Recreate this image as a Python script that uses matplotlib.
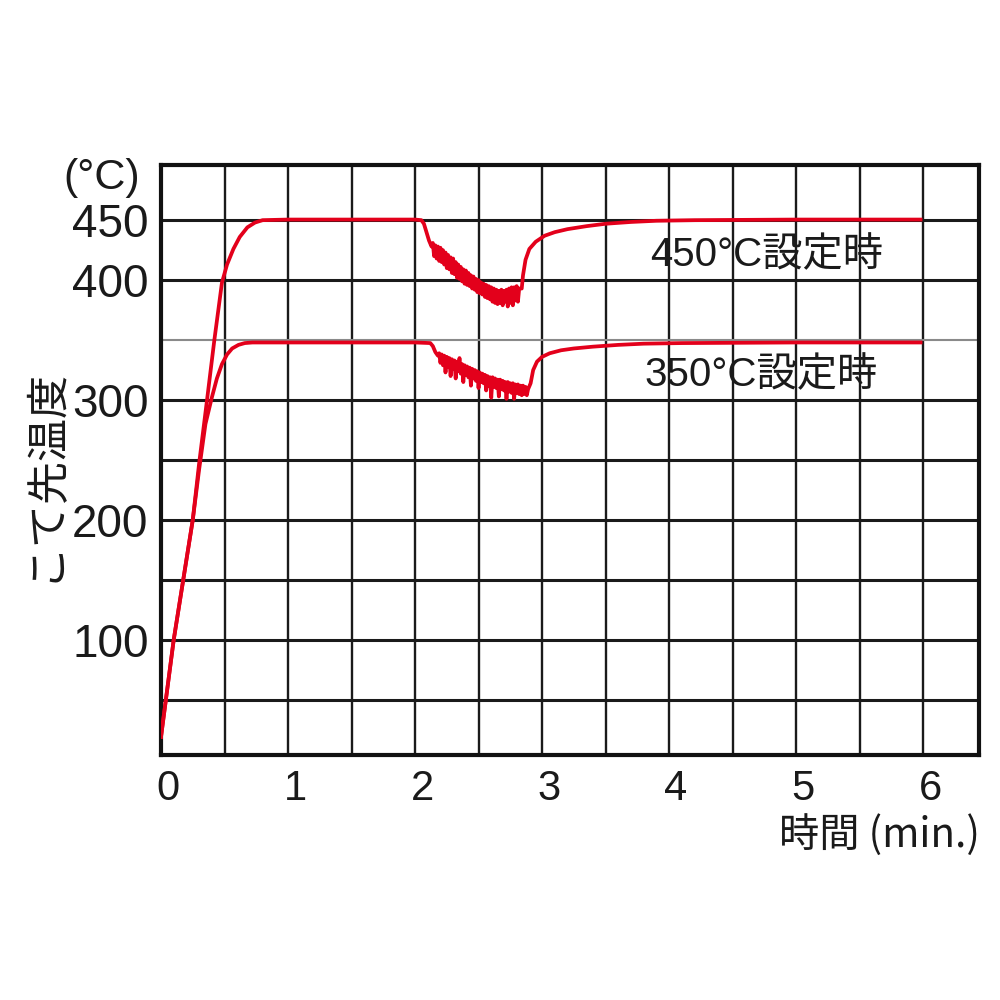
import matplotlib
matplotlib.use("Agg")
import matplotlib.pyplot as plt
import matplotlib.transforms as mtransforms

plt.rcParams['font.family'] = ['Liberation Sans', 'Noto Sans CJK JP', 'DejaVu Sans']

# 450°C setting: time (min) and tip temperature (°C)
time_450 = [0.00, 0.10, 0.25, 0.30, 0.36, 0.42, 0.48, 0.52, 0.57, 0.62, 0.68, 0.74, 0.80, 1.00, 1.50, 2.00,
            2.05, 2.07, 2.09, 2.11, 2.13,
            2.14, 2.15, 2.16, 2.17, 2.18, 2.19, 2.20, 2.21, 2.22, 2.23, 2.24, 2.25, 2.26, 2.27, 2.28, 2.29,
            2.30, 2.31, 2.32, 2.33, 2.34, 2.35, 2.36, 2.37, 2.38, 2.39, 2.40, 2.41, 2.42, 2.43, 2.44, 2.45,
            2.46, 2.47, 2.48, 2.49, 2.50, 2.51, 2.52, 2.53, 2.54, 2.55, 2.56, 2.57, 2.58, 2.59, 2.60, 2.61,
            2.62, 2.63, 2.64, 2.65, 2.66, 2.67, 2.68, 2.69, 2.70, 2.71, 2.72, 2.73, 2.74, 2.75, 2.76, 2.77,
            2.78, 2.79, 2.80, 2.81, 2.82,
            2.84, 2.85, 2.87, 2.90, 2.95, 3.02, 3.10, 3.20, 3.35, 3.50, 3.70, 3.90, 4.20, 5.00, 5.98]
temp_450 = [19, 100, 200, 247, 298, 350, 398, 413, 426, 436, 444, 448, 450, 450.5, 450.5, 450.5,
            450, 447, 440, 433, 428,
            431, 420, 429, 418, 428, 416, 427, 415, 425, 413, 423, 410, 421, 409, 419, 406,
            418, 405, 415, 402, 413, 401, 411, 399, 409, 397, 408, 396, 406, 395, 404, 393,
            403, 392, 401, 390, 400, 389, 398, 388, 397, 386, 396, 385, 395, 384, 394, 382,
            393, 381, 392, 380, 391, 381, 392, 379, 391, 382, 392, 378, 393, 381, 394, 379,
            394, 383, 395, 382, 393,
            393, 404, 417, 426, 432, 437, 440, 442.5, 445, 447, 448.5, 449.5, 450, 450.5, 450.5]

# 350°C setting
time_350 = [0.00, 0.10, 0.25, 0.30, 0.35, 0.40, 0.44, 0.48, 0.52, 0.56, 0.61, 0.66, 0.72, 1.00, 1.50, 2.00,
            2.12, 2.14, 2.16, 2.18,
            2.19, 2.20, 2.21, 2.22, 2.23, 2.24, 2.25, 2.26, 2.27, 2.28, 2.29, 2.30, 2.31, 2.32, 2.33, 2.34,
            2.35, 2.36, 2.37, 2.38, 2.39, 2.40, 2.41, 2.42, 2.43, 2.44, 2.45, 2.46, 2.47, 2.48, 2.49, 2.50,
            2.51, 2.52, 2.53, 2.54, 2.55, 2.56, 2.57, 2.58, 2.59, 2.60, 2.61, 2.62, 2.63, 2.64, 2.65, 2.66,
            2.67, 2.68, 2.69, 2.70, 2.71, 2.72, 2.73, 2.74, 2.75, 2.76, 2.77, 2.78, 2.79, 2.80, 2.81, 2.82,
            2.83, 2.84, 2.85, 2.86, 2.87, 2.88, 2.89,
            2.91, 2.93, 2.96, 3.00, 3.06, 3.15, 3.25, 3.40, 3.60, 3.80, 4.10, 5.00, 5.98]
temp_350 = [19, 100, 200, 242, 280, 302, 318, 330, 338, 343, 346, 347.5, 348, 348, 348, 348,
            347.5, 345, 340, 337,
            339, 331, 338, 329, 337, 323, 336, 328, 335, 320, 334, 326, 333, 318, 332, 324,
            335, 322, 330, 315, 329, 321, 328, 319, 327, 312, 326, 318, 325, 316, 324, 310,
            323, 315, 322, 314, 321, 308, 320, 312, 319, 302, 319, 311, 318, 310, 317, 303,
            317, 309, 316, 308, 315, 301, 315, 307, 314, 306, 314, 301, 313, 306, 313, 305,
            312, 304, 312, 305, 311, 304, 309,
            314, 325, 332, 336, 339, 341.5, 343, 344.5, 346, 347, 347.5, 348, 348]

x_grid = [0, 0.5, 1, 1.5, 2, 2.5, 3, 3.5, 4, 4.5, 5, 5.5, 6]
x_labels = ['0', '', '1', '', '2', '', '3', '', '4', '', '5', '', '6']
y_grid = [50, 100, 150, 200, 250, 300, 350, 400, 450]
y_labels = ['', '100', '', '200', '', '300', '', '400', '450']

red = '#e3001b'
ink = '#1a1a1a'

fig = plt.figure(figsize=(10, 10), dpi=100)
ax = fig.add_axes([0.161, 0.245, 0.818, 0.590])

ax.plot(time_450, temp_450, color=red, lw=2.7, zorder=3, solid_joinstyle='round')
ax.plot(time_350, temp_350, color=red, lw=2.7, zorder=3, solid_joinstyle='round')

ax.set_xlim(0, 6.44)
ax.set_ylim(4, 496)
ax.set_xticks(x_grid)
ax.set_xticklabels(x_labels, fontsize=30)
ax.set_yticks(y_grid)
ax.set_yticklabels(y_labels, fontsize=33)
ax.tick_params(axis='both', length=0, colors=ink)
ax.tick_params(axis='x', pad=10)
ax.tick_params(axis='y', pad=9)

ax.grid(True, axis='x', color=ink, lw=1.7, zorder=1)
ax.grid(True, axis='y', color=ink, lw=2.2, zorder=1)
ax.get_ygridlines()[y_grid.index(350)].set_color('#8a8a8a')
ax.get_ygridlines()[y_grid.index(350)].set_linewidth(1.5)
for s in ax.spines.values():
    s.set_linewidth(3)
    s.set_color('#111111')

# labels sit a little right of their gridline in the original
shift = mtransforms.ScaledTranslation(7 / 100, 0, fig.dpi_scale_trans)
for lab in ax.get_xticklabels():
    lab.set_transform(lab.get_transform() + shift)

ax.text(3.85, 421, '450°C設定時', fontsize=29, va='center', ha='left', color=ink)
ax.text(3.81, 321, '350°C設定時', fontsize=29, va='center', ha='left', color=ink)

fig.text(0.102, 0.822, '(°C)', fontsize=31, ha='center', va='center', color=ink)
fig.text(0.045, 0.525, 'こて先温度', fontsize=31, rotation=90, ha='center', va='center',
         family=['Noto Sans CJK JP'], color=ink)
fig.text(0.98, 0.165, '時間 (min.)', fontsize=29, ha='right', va='center',
         family=['Noto Sans CJK JP'], color=ink)

fig.savefig('out.png', dpi=100, facecolor='white')
